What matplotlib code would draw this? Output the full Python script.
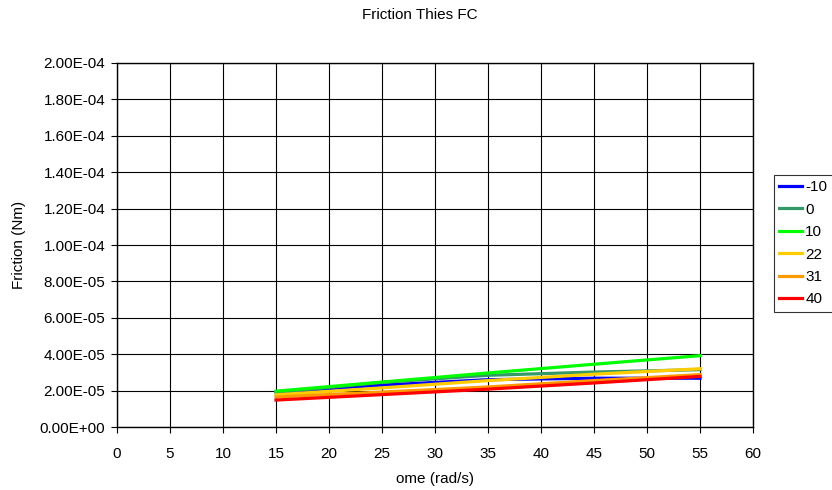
import matplotlib
matplotlib.use('Agg')
import matplotlib.pyplot as plt

plt.rcParams['font.family'] = ['Liberation Sans', 'DejaVu Sans']

# Data
ome = [15, 25, 35, 45, 55]
temps = ['-10', '0', '10', '22', '31', '40']
friction = {
    '-10': [1.92e-5, 2.30e-5, 2.60e-5, 2.68e-5, 2.68e-5],
    '0':   [1.90e-5, 2.45e-5, 2.84e-5, 3.02e-5, 3.15e-5],
    '10':  [1.97e-5, 2.47e-5, 2.97e-5, 3.45e-5, 3.92e-5],
    '22':  [1.77e-5, 2.15e-5, 2.55e-5, 2.90e-5, 3.20e-5],
    '31':  [1.65e-5, 1.92e-5, 2.20e-5, 2.55e-5, 2.88e-5],
    '40':  [1.48e-5, 1.78e-5, 2.08e-5, 2.42e-5, 2.78e-5],
}
colors = ['#0000ff', '#339966', '#00ff00', '#ffcc00', '#ff9900', '#ff0000']

fs = 11
fig = plt.figure(figsize=(8.32, 4.9), dpi=100)
ax = fig.add_axes([117 / 832, 1 - 427 / 490, (753 - 117) / 832, (427 - 63) / 490])

for t, c in zip(temps, colors):
    ax.plot(ome, friction[t], color=c, linewidth=2.3, label=t)

ax.set_xlim(0, 60)
ax.set_ylim(0, 2e-4)
ax.set_xticks(range(0, 61, 5))
yt = [i * 2e-5 for i in range(11)]
ax.set_yticks(yt)
ax.set_yticklabels([f'{v:.2E}' for v in yt])
ax.grid(True, color='black', linewidth=0.8)
ax.tick_params(labelsize=fs, direction='out', length=4.5, color='black', pad=4)
ax.tick_params(axis='x', pad=10)
for s in ax.spines.values():
    s.set_linewidth(1.0)

ax.set_xlabel('ome (rad/s)', fontsize=fs, labelpad=8)
ax.set_ylabel('Friction (Nm)', fontsize=fs, labelpad=10)
fig.text(0.505, 1 - 15 / 490, 'Friction Thies FC', ha='center', va='center', fontsize=fs)

leg = ax.legend(loc='upper left', bbox_to_anchor=(774 / 832, 1 - 175 / 490),
                bbox_transform=fig.transFigure, fontsize=fs, frameon=True,
                fancybox=False, edgecolor='black', handlelength=1.45,
                handletextpad=0.25, borderpad=0.35, labelspacing=0.55,
                borderaxespad=0)
leg.get_frame().set_linewidth(0.8)

fig.savefig('out.png', dpi=100)
